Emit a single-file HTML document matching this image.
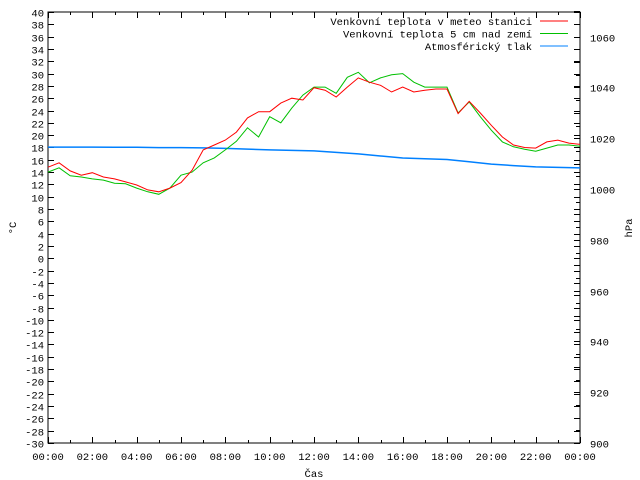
<!DOCTYPE html>
<html><head><meta charset="utf-8"><style>
body{margin:0;background:#fff}
svg{display:block;font-family:"Liberation Mono",monospace;font-size:10.5px}
</style></head><body>
<svg id="chart" width="640" height="480" viewBox="0 0 640 480">
<g id="axes"></g>
<g id="series"></g>
<g id="legend"></g>
</svg>
<script>
const hours = [0,0.5,1,1.5,2,2.5,3,3.5,4,4.5,5,5.5,6,6.5,7,7.5,8,8.5,9,9.5,10,10.5,11,11.5,12,12.5,13,13.5,14,14.5,15,15.5,16,16.5,17,17.5,18,18.5,19,19.5,20,20.5,21,21.5,22,22.5,23,23.5,24];
const redTemp = [14.8,15.5,14.2,13.5,13.9,13.2,12.9,12.4,11.9,11.1,10.8,11.4,12.3,14.3,17.6,18.4,19.2,20.5,22.8,23.8,23.8,25.2,26,25.7,27.7,27.3,26.2,27.8,29.3,28.6,28.1,27,27.8,27,27.3,27.5,27.5,23.5,25.5,23.6,21.6,19.7,18.4,18,17.9,18.9,19.2,18.7,18.5];
const greenTemp = [14,14.7,13.4,13.2,12.9,12.7,12.2,12.1,11.4,10.8,10.4,11.4,13.5,14,15.5,16.3,17.6,19,21.2,19.7,23,22,24.4,26.5,27.8,27.8,26.8,29.4,30.2,28.5,29.3,29.8,30,28.6,27.8,27.8,27.8,23.6,25.4,23,20.8,18.9,18.1,17.7,17.4,17.9,18.4,18.4,18.2];
const pressHours = [0,1,2,3,4,5,6,7,8,9,10,11,12,13,14,15,16,17,18,19,20,21,22,23,24];
const pressure = [1016.5,1016.5,1016.5,1016.4,1016.4,1016.3,1016.3,1016.2,1016.0,1015.7,1015.4,1015.2,1015.0,1014.4,1013.8,1013.0,1012.2,1011.9,1011.6,1010.7,1009.8,1009.2,1008.7,1008.5,1008.3];
const xTickLabels = ["00:00","02:00","04:00","06:00","08:00","10:00","12:00","14:00","16:00","18:00","20:00","22:00","00:00"];
const yTickValues = [40,38,36,34,32,30,28,26,24,22,20,18,16,14,12,10,8,6,4,2,0,-2,-4,-6,-8,-10,-12,-14,-16,-18,-20,-22,-24,-26,-28,-30];
const y2TickValues = [1060,1040,1020,1000,980,960,940,920,900];
const legendLabels = ["Venkovní teplota v meteo stanici","Venkovní teplota 5 cm nad zemí","Atmosférický tlak"];
const legendColors = ["#ff0000","#00c000","#0080ff"];

const L=48,R=580,T=12,B=443;
const xs=h=>L+h/24*(R-L);
const ys=t=>T+(40-t)*(B-T)/70;
const yp=p=>B-(p-900)*2.54;
const NS="http://www.w3.org/2000/svg";
function mk(tag,parent,attrs){const e=document.createElementNS(NS,tag);for(const k in attrs)e.setAttribute(k,attrs[k]);parent.appendChild(e);return e;}
const ax=document.getElementById('axes');
let f=mk('rect',ax,{x:L,y:T,width:R-L,height:B-T,fill:'none',stroke:'#000','stroke-width':1});


let d='';
yTickValues.forEach(v=>{const y=Math.round(ys(v))+0.5;d+=`M${L} ${y}h6M${R} ${y}h-6`;
 const t=mk('text',ax,{x:L-4,y:y+4,'text-anchor':'end'});t.textContent=v;
 
 });
for(let p=900;p<=1070;p+=5){const y=Math.round(yp(p))+0.5;d+=`M${R} ${y}h${p%10?-4:-6}`;}
y2TickValues.forEach(v=>{const y=Math.round(yp(v))+0.5;
 const t=mk('text',ax,{x:R+10,y:y+4});t.textContent=v;
 
 });
for(let h=0;h<=24;h++){const x=Math.round(xs(h))+0.5;const l=h%2?3:6;d+=`M${x} ${B}v-${l}M${x} ${T}v${l}`;}
xTickLabels.forEach((s,i)=>{const t=mk('text',ax,{x:xs(i*2),y:B+17,'text-anchor':'middle'});t.textContent=s;
 
 });
let tk=mk('path',ax,{d:d,stroke:'#000','stroke-width':1,fill:'none'});


let xt=mk('text',ax,{x:314,y:477,'text-anchor':'middle'});xt.textContent='Čas';


let yt=mk('text',ax,{x:0,y:0,transform:'translate(16,228) rotate(-90)','text-anchor':'middle'});yt.textContent='°C';


let y2t=mk('text',ax,{x:0,y:0,transform:'translate(632,228) rotate(-90)','text-anchor':'middle'});y2t.textContent='hPa';



const sg=document.getElementById('series');
function line(xv,yv,fy,color,name,w){const pts=xv.map((h,i)=>xs(h).toFixed(1)+','+fy(yv[i]).toFixed(1)).join(' ');
 const p=mk('polyline',sg,{points:pts,fill:'none',stroke:color,'stroke-width':w});
 
 }
line(pressHours,pressure,yp,legendColors[2],'pressure-line',1.5);
line(hours,greenTemp,ys,legendColors[1],'ground-temp-line',1);
line(hours,redTemp,ys,legendColors[0],'station-temp-line',1);

const lg=document.getElementById('legend');
legendLabels.forEach((s,i)=>{const y=21+i*12.5;
 const t=mk('text',lg,{x:532,y:y+4,'text-anchor':'end'});t.textContent=s;
 
 
 const l=mk('line',lg,{x1:540,x2:568,y1:y,y2:y,stroke:legendColors[i],'stroke-width':1});
 
 });
</script>
</body></html>
